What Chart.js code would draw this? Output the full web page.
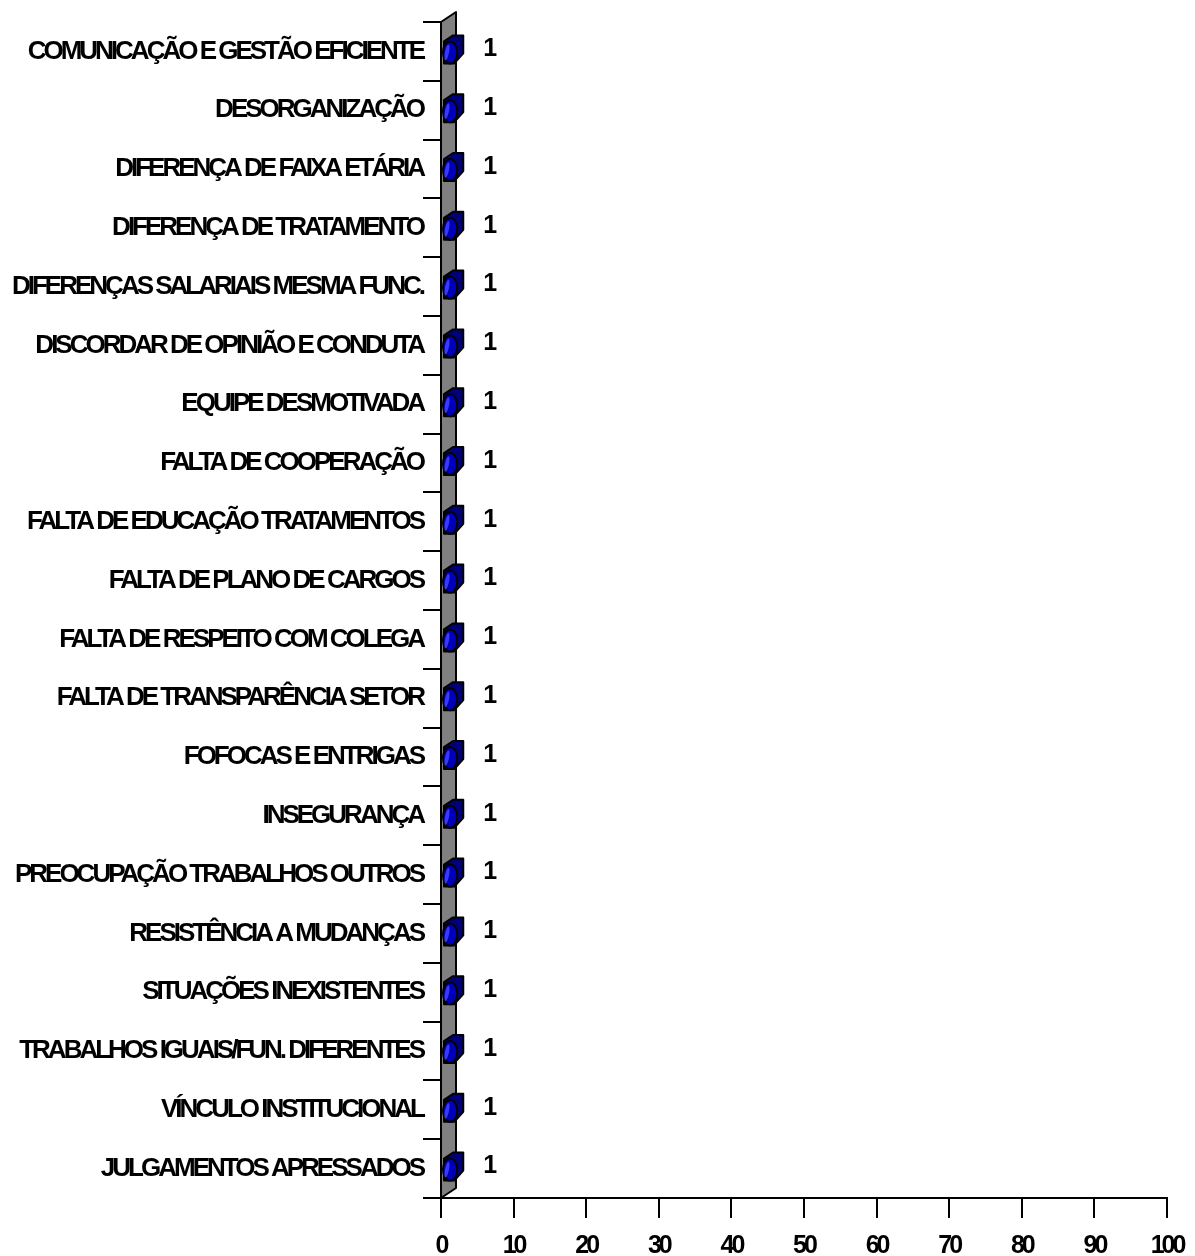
<!DOCTYPE html>
<html>
<head>
<meta charset="utf-8">
<script src="https://cdn.jsdelivr.net/npm/chart.js@4.4.1/dist/chart.umd.min.js"></script>
<style>
  html, body { margin: 0; padding: 0; background: #fff; }
  #wrap { width: 1195px; height: 1256px; }
</style>
</head>
<body>
<div id="wrap"><canvas id="chart"></canvas></div>
<script>
const categories = [
    'COMUNICAÇÃO E GESTÃO EFICIENTE',
    'DESORGANIZAÇÃO',
    'DIFERENÇA DE FAIXA ETÁRIA',
    'DIFERENÇA DE TRATAMENTO',
    'DIFERENÇAS SALARIAIS MESMA FUNC.',
    'DISCORDAR DE OPINIÃO E CONDUTA',
    'EQUIPE DESMOTIVADA',
    'FALTA DE COOPERAÇÃO',
    'FALTA DE EDUCAÇÃO TRATAMENTOS',
    'FALTA DE PLANO DE CARGOS',
    'FALTA DE RESPEITO COM COLEGA',
    'FALTA DE TRANSPARÊNCIA SETOR',
    'FOFOCAS E ENTRIGAS',
    'INSEGURANÇA',
    'PREOCUPAÇÃO TRABALHOS OUTROS',
    'RESISTÊNCIA A MUDANÇAS',
    'SITUAÇÕES INEXISTENTES',
    'TRABALHOS IGUAIS/FUN. DIFERENTES',
    'VÍNCULO INSTITUCIONAL',
    'JULGAMENTOS APRESSADOS'
];
const counts = [1, 1, 1, 1, 1, 1, 1, 1, 1, 1, 1, 1, 1, 1, 1, 1, 1, 1, 1, 1];
const xMin = 0;
const xMax = 100;
const xStep = 10;

const FONT = "'Liberation Sans', Arial, sans-serif";
const DEPTH_X = 15, DEPTH_Y = 10;

// squeezed lettering like the original export
const tightText = {
    id: 'tightText',
    beforeDraw(chart) { chart.ctx.letterSpacing = '-3px'; },
    afterDraw(chart) { chart.ctx.letterSpacing = '0px'; }
};

// grey 3D wall behind the bars
const wallPlugin = {
    id: 'wall',
    beforeDatasetsDraw(chart) {
        const {ctx, chartArea} = chart;
        const l = chartArea.left, t = chartArea.top, b = chartArea.bottom;
        ctx.save();
        ctx.beginPath();
        ctx.moveTo(l, t);
        ctx.lineTo(l + DEPTH_X, t - DEPTH_Y);
        ctx.lineTo(l + DEPTH_X, b - DEPTH_Y);
        ctx.lineTo(l, b);
        ctx.closePath();
        ctx.fillStyle = '#808080';
        ctx.fill();
        ctx.lineWidth = 2;
        ctx.strokeStyle = '#000';
        ctx.lineJoin = 'round';
        ctx.stroke();
        ctx.restore();
    }
};

// 3D blue bars + value labels
const bar3dPlugin = {
    id: 'bar3d',
    afterDatasetsDraw(chart) {
        const {ctx} = chart;
        const meta = chart.getDatasetMeta(0);
        ctx.save();
        ctx.letterSpacing = '0px';
        meta.data.forEach((bar, i) => {
            const x0 = bar.base + 2;
            const x1 = bar.x + 6;
            const h = 22;
            const yB = bar.y + 12;
            const yT = yB - h;
            const dx = 9, dy = 6;
            ctx.beginPath();
            ctx.moveTo(x0, yT);
            ctx.lineTo(x0 + dx, yT - dy);
            ctx.lineTo(x1 + dx, yT - dy);
            ctx.lineTo(x1 + dx, yB - dy - 4);
            ctx.lineTo(x1, yB);
            ctx.lineTo(x0, yB);
            ctx.closePath();
            ctx.fillStyle = '#00007a';
            ctx.fill();
            ctx.lineWidth = 2;
            ctx.lineJoin = 'round';
            ctx.strokeStyle = '#000';
            ctx.stroke();
            ctx.beginPath();
            ctx.ellipse((x0 + x1) / 2 + 1, (yT + yB) / 2, (x1 - x0) / 2 + 2, h / 2, 0, 0, Math.PI * 2);
            ctx.fillStyle = '#0000b8';
            ctx.fill();
            ctx.stroke();
            ctx.beginPath();
            ctx.ellipse(x0 + 3, (yT + yB) / 2, 2, h / 2 - 3, 0.2, 0, Math.PI * 2);
            ctx.fillStyle = '#3a3aff';
            ctx.fill();

            ctx.fillStyle = '#000';
            ctx.font = 'bold 25px ' + FONT;
            ctx.textAlign = 'center';
            ctx.textBaseline = 'middle';
            ctx.fillText(counts[i], bar.x + 42, bar.y - 2);
        });
        ctx.restore();
    }
};

new Chart(document.getElementById('chart'), {
    type: 'bar',
    data: {
        labels: categories,
        datasets: [{
            data: counts,
            backgroundColor: 'rgba(0,0,0,0)',
            borderWidth: 0
        }]
    },
    options: {
        indexAxis: 'y',
        responsive: true,
        maintainAspectRatio: false,
        animation: false,
        layout: { padding: { top: 22, right: 28, left: 0, bottom: 0 } },
        plugins: { legend: { display: false }, tooltip: { enabled: false } },
        scales: {
            x: {
                min: xMin, max: xMax,
                afterFit(scale) {
                    scale.height = 58;
                    scale.paddingLeft = 0;
                    scale.paddingRight = 0;
                },
                border: { display: true, color: '#000', width: 2 },
                grid: { drawOnChartArea: false, drawTicks: true, tickLength: 20, color: '#000', lineWidth: 2 },
                ticks: {
                    stepSize: xStep, color: '#000', padding: 13,
                    font: { family: FONT, size: 25, weight: 'bold' }
                }
            },
            y: {
                afterFit(scale) { scale.width = 441; },
                border: { display: true, color: '#000', width: 2 },
                grid: { drawOnChartArea: false, drawTicks: true, tickLength: 18, color: '#000', lineWidth: 2 },
                ticks: {
                    color: '#000', padding: 0,
                    font: { family: FONT, size: 26, weight: 'bold' }
                }
            }
        }
    },
    plugins: [tightText, wallPlugin, bar3dPlugin]
});
</script>
</body>
</html>
